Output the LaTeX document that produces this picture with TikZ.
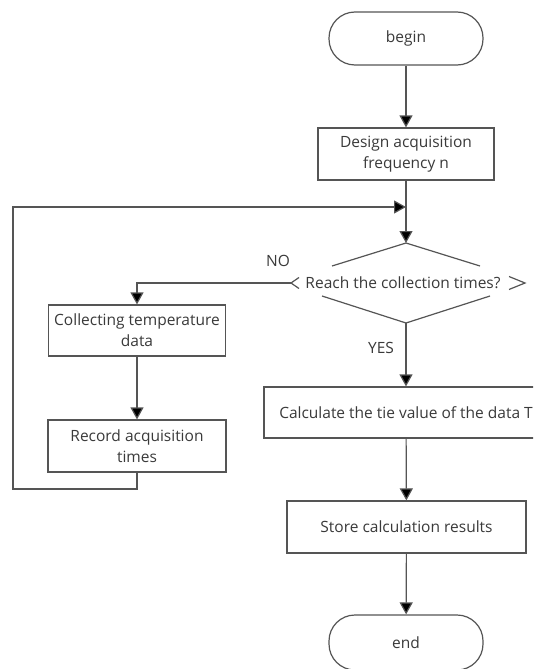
\documentclass[tikz,border=0pt]{standalone}
\usepackage{fontspec}
\setmainfont{Open Sans}
\usetikzlibrary{arrows.meta}
\definecolor{lineC}{HTML}{555555}
\definecolor{textC}{HTML}{3A3A3A}
\tikzset{
  flow/.style={draw=lineC, line width=1.2pt},
  arr/.style={flow, -{Triangle[width=13pt,length=12pt,fill=black]}},
  box/.style={draw=lineC, line width=1.2pt, fill=white, rectangle, inner sep=0pt,
              align=center, text=textC, font=\fontsize{15.5}{21}\selectfont},
  term/.style={box, rounded corners=26pt},
  lbl/.style={text=textC, font=\fontsize{15.5}{18}\selectfont, inner sep=0pt}
}
\begin{document}
\begin{tikzpicture}[x=1pt,y=-1pt]
\useasboundingbox (0,0) rectangle (533,669);
\clip (0,0) rectangle (533,669);
\fill[white] (0,0) rectangle (533,669);

% terminals and process boxes
\node[term, minimum width=154pt, minimum height=53pt] (begin) at (406,38.5) {begin};
\node[box, minimum width=176pt, minimum height=52pt] (design) at (406,154) {Design acquisition\\frequency n};
\node[box, minimum width=177pt, minimum height=51pt] (collect) at (137,330.5) {Collecting temperature\\data};
\node[box, minimum width=178pt, minimum height=52pt] (record) at (137,446) {Record acquisition\\times};
\node[box, minimum width=284pt, minimum height=51pt] (calc) at (406,412.5) {Calculate the tie value of the data T};
\node[box, minimum width=239pt, minimum height=52pt] (store) at (406.5,527) {Store calculation results};
\node[term, minimum width=154pt, minimum height=55pt] (end) at (406,642.5) {end};

% decision
\coordinate (dtop) at (406,243);
\coordinate (dbot) at (406,323);
\coordinate (dleft) at (291,283);
\coordinate (dright) at (525,283);
\draw[flow] (332,266) -- (dtop) -- (480,266);
\draw[flow] (322,296) -- (dbot) -- (490,296);
\draw[flow] (299,277.5) -- (dleft) -- (299,288.5);
\draw[flow] (509,276.5) -- (dright) -- (509,289.5);
\node[lbl] (dtext) at (403,283) {Reach the collection times?};

% branch labels
\node[lbl] (no) at (278,261) {NO};
\node[lbl] (yes) at (381,348) {YES};

% loop-back corner points
\coordinate (lpA) at (137,489);
\coordinate (lpB) at (13,489);
\coordinate (lpC) at (13,207);
\coordinate (lpD) at (406,207);
\coordinate (noC) at (137,283);

% connectors
\draw[arr] (begin) -- (design);
\draw[arr] (design) -- (dtop);
\draw[arr] (dleft) -- (noC) -- (collect);
\draw[arr] (collect) -- (record);
\draw[arr] (record) -- (lpA) -- (lpB) -- (lpC) -- (lpD);
\draw[arr] (dbot) -- (calc);
\draw[arr] (calc) -- (store);
\draw[arr] (store) -- (end);
\end{tikzpicture}
\end{document}
